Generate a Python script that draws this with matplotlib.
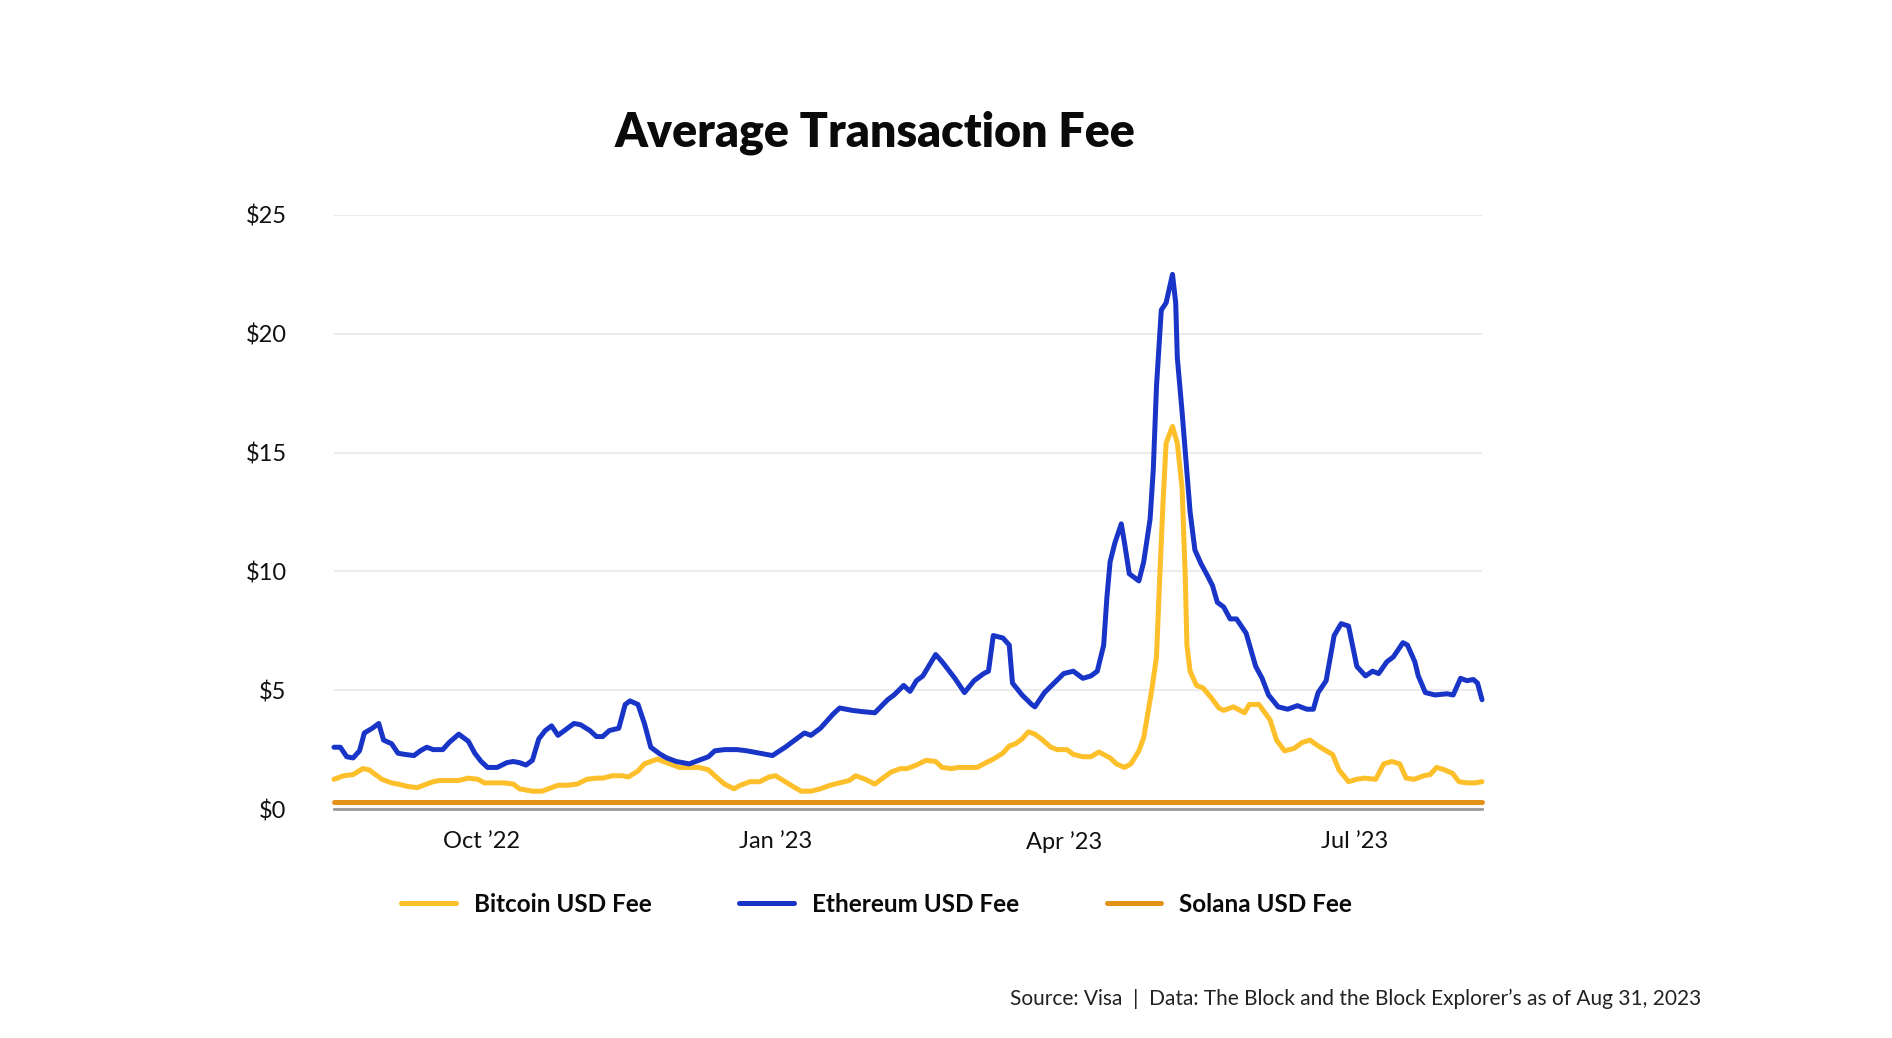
import matplotlib.pyplot as plt
import pandas as pd

# Chart data: days counted from the first date on the axis
start_date = "2022-08-16"
end_day = 358.7

eth_day = [0, 2, 4, 6, 8, 9.5, 12, 14, 15.5, 18, 20, 22, 25, 27, 29, 31, 34, 36, 39, 42,
           44, 46, 48, 51, 54, 56, 58, 60, 62, 64, 66, 68, 70, 72, 75, 77, 80, 82, 84, 86,
           89, 91, 92.5, 95, 97, 99, 102, 104, 107, 111, 114, 117, 119, 122, 126, 129, 133,
           137, 141, 145, 147, 149, 152, 156, 158, 162, 165, 169, 173, 175, 178, 180, 182,
           184, 188, 190, 194, 197, 200, 203, 204.5, 206, 209, 211, 212, 215, 218, 219, 222,
           225, 228, 231, 234, 236.5, 238.5, 240.5, 241.5, 242.5, 244, 246, 247, 248.5,
           251.5, 253, 255, 256, 257, 258.5, 260, 261, 262, 263, 263.5, 265, 266, 267.5,
           269, 271, 273, 274.5, 276, 278, 280, 282, 285, 286.5, 288, 290, 292, 295, 298,
           301, 304, 306, 307.5, 310, 312.5, 314.7, 317, 319.6, 322.3, 324.5, 326.4, 329,
           331, 334, 335.4, 337.7, 338.8, 341, 344, 347.8, 349.7, 352, 354, 356, 357.3, 358.7]
eth_fee = [2.6, 2.6, 2.2, 2.15, 2.45, 3.2, 3.4, 3.6, 2.9, 2.75, 2.35, 2.3, 2.25, 2.45, 2.6,
           2.5, 2.5, 2.8, 3.15, 2.85, 2.35, 2.0, 1.75, 1.75, 1.95, 2.0, 1.95, 1.85, 2.05, 2.95,
           3.3, 3.5, 3.1, 3.3, 3.6, 3.55, 3.3, 3.05, 3.05, 3.3, 3.4, 4.4, 4.55, 4.4, 3.6, 2.6,
           2.3, 2.15, 2.0, 1.9, 2.05, 2.2, 2.45, 2.5, 2.5, 2.45, 2.35, 2.25, 2.6, 3.0, 3.2,
           3.1, 3.4, 4.0, 4.25, 4.15, 4.1, 4.05, 4.6, 4.8, 5.2, 4.95, 5.4, 5.6, 6.5, 6.2, 5.5,
           4.9, 5.4, 5.7, 5.8, 7.3, 7.2, 6.9, 5.3, 4.8, 4.4, 4.3, 4.9, 5.3, 5.7, 5.8, 5.5,
           5.6, 5.8, 6.9, 8.9, 10.4, 11.2, 12.0, 11.2, 9.9, 9.6, 10.4, 12.2, 14.3, 17.8, 21.0,
           21.3, 21.9, 22.5, 21.3, 19.0, 16.7, 15.0, 12.5, 10.9, 10.3, 9.8, 9.4, 8.7, 8.5,
           8.0, 8.0, 7.4, 6.7, 6.0, 5.5, 4.8, 4.3, 4.2, 4.35, 4.2, 4.2, 4.9, 5.4, 7.3, 7.8,
           7.7, 6.0, 5.6, 5.8, 5.7, 6.2, 6.4, 7.0, 6.9, 6.2, 5.6, 4.9, 4.8, 4.85, 4.8, 5.5,
           5.4, 5.45, 5.3, 4.6]

btc_day = [0, 3, 6, 9, 11, 13, 15, 18, 20, 23, 26, 28, 31, 33, 36, 39, 42, 45, 47, 50, 53,
           56, 58, 62, 65, 67, 70, 73, 76, 79, 82, 84, 87, 90, 92, 95, 97, 101, 105, 108,
           111, 114, 117, 119, 122, 125, 127, 130, 133, 136, 138, 141, 144, 146, 149, 152,
           155, 158, 161, 163, 166, 169, 171, 174, 177, 179, 182, 185, 188, 190, 193, 195,
           198, 201, 203, 206, 209, 211, 213, 215, 217, 219, 221, 224, 226, 229, 231, 234,
           236.5, 239, 242.5, 244.5, 247, 249, 251.5, 253, 254, 255.5, 257, 258, 259, 260,
           262, 263.5, 265, 266, 266.5, 267.5, 269.5, 271.5, 274, 276.5, 278, 281, 284.5,
           286, 289, 292.5, 294.5, 297, 300, 302.5, 305, 307, 310, 312, 314, 317, 319.5,
           322, 325.5, 328, 330.5, 333, 335, 337.5, 340.5, 342.5, 344.5, 347, 349.5, 351.5,
           354, 356.5, 358.7]
btc_fee = [1.25, 1.4, 1.45, 1.7, 1.65, 1.45, 1.25, 1.1, 1.05, 0.95, 0.9, 1.0, 1.15, 1.2,
           1.2, 1.2, 1.3, 1.25, 1.1, 1.1, 1.1, 1.05, 0.85, 0.75, 0.75, 0.85, 1.0, 1.0, 1.05,
           1.25, 1.3, 1.3, 1.4, 1.4, 1.35, 1.6, 1.9, 2.1, 1.9, 1.75, 1.75, 1.75, 1.65, 1.4,
           1.05, 0.85, 1.0, 1.15, 1.15, 1.35, 1.4, 1.15, 0.9, 0.75, 0.75, 0.85, 1.0, 1.1,
           1.2, 1.4, 1.25, 1.05, 1.25, 1.55, 1.7, 1.7, 1.85, 2.05, 2.0, 1.75, 1.7, 1.75, 1.75,
           1.75, 1.9, 2.1, 2.35, 2.65, 2.75, 2.95, 3.25, 3.15, 2.95, 2.6, 2.5, 2.5, 2.3, 2.2,
           2.2, 2.4, 2.15, 1.9, 1.75, 1.9, 2.45, 3.0, 3.8, 5.0, 6.4, 9.7, 12.8, 15.4, 16.1,
           15.4, 13.5, 9.7, 6.9, 5.8, 5.2, 5.1, 4.7, 4.25, 4.15, 4.3, 4.05, 4.4, 4.4, 3.75,
           2.9, 2.45, 2.55, 2.8, 2.9, 2.7, 2.45, 2.3, 1.65, 1.15, 1.25, 1.3, 1.25, 1.9, 2.0,
           1.9, 1.3, 1.25, 1.4, 1.45, 1.75, 1.65, 1.5, 1.15, 1.1, 1.1, 1.15]

sol_day = [0, 90, 180, 270, 358.7]
sol_fee = [0.28, 0.28, 0.28, 0.28, 0.28]

tick_dates = ["2022-10-01", "2023-01-01", "2023-04-01", "2023-07-01"]
tick_labels = ["Oct \u201922", "Jan \u201923", "Apr \u201923", "Jul \u201923"]
y_ticks = [0, 5, 10, 15, 20, 25]
y_labels = ["$0", "$5", "$10", "$15", "$20", "$25"]


def to_dates(days):
    return pd.Timestamp(start_date) + pd.to_timedelta(days, unit="D")


plt.rcParams['font.family'] = ['Lato', 'DejaVu Sans']

fig = plt.figure(figsize=(18.92, 10.38), dpi=100)
ax = fig.add_axes([0.1765, 0.2206, 0.6068, 0.5723])

line_kw = dict(linewidth=3.6, solid_joinstyle='round', solid_capstyle='round', clip_on=False)
ax.plot(to_dates(sol_day), sol_fee, color='#E39219', label='Solana USD Fee', zorder=3, **line_kw)
ax.plot(to_dates(btc_day), btc_fee, color='#FDBF2A', label='Bitcoin USD Fee', zorder=4, **line_kw)
ax.plot(to_dates(eth_day), eth_fee, color='#1935C8', label='Ethereum USD Fee', zorder=5, **line_kw)

ax.set_xlim(to_dates([0])[0], to_dates([end_day])[0])
ax.set_ylim(0, 25)

# Gridlines and axis styling
ax.set_yticks(y_ticks)
ax.set_yticklabels(y_labels)
ax.set_xticks(pd.to_datetime(tick_dates))
ax.set_xticklabels(tick_labels)
ax.grid(axis='y', color='#e8e8e8', linewidth=1.2)
ax.set_axisbelow(True)
for side in ['top', 'right', 'left']:
    ax.spines[side].set_visible(False)
ax.spines['bottom'].set_color('#9a9a9a')
ax.spines['bottom'].set_linewidth(2)
ax.tick_params(axis='both', length=0, labelsize=17, colors='#111111')
ax.tick_params(axis='y', pad=34)
ax.tick_params(axis='x', pad=16)

fig.text(0.4625, 0.872, "Average Transaction Fee", ha='center', va='center',
         fontsize=33.5, fontweight='heavy', color='#0a0a0a')

# Legend in the reference order
handles, labels = ax.get_legend_handles_labels()
order = [1, 2, 0]
leg = fig.legend([handles[i] for i in order], [labels[i] for i in order],
                 loc='center', bbox_to_anchor=(0.4633, 0.129), ncol=3, frameon=False,
                 handlelength=2.25, handletextpad=0.75, columnspacing=3.6,
                 prop={'size': 17.5, 'weight': 'bold'})
for t in leg.get_texts():
    t.set_color('#0a0a0a')

fig.text(0.899, 0.0376,
         "Source: Visa  |  Data: The Block and the Block Explorer\u2019s as of Aug 31, 2023",
         ha='right', va='center', fontsize=15, color='#222222')

fig.savefig('out.png', dpi=100, facecolor='white')
